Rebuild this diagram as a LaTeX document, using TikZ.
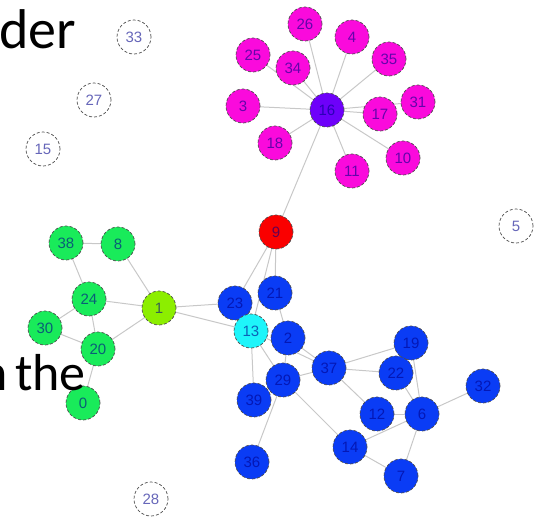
\documentclass[tikz,border=0pt]{standalone}
\usepackage{fontspec}
\setmainfont{Carlito}
\newfontfamily\numfont{Liberation Sans}
\usetikzlibrary{backgrounds}

\definecolor{edgegray}{RGB}{200,200,200}
\definecolor{magentav}{RGB}{250,10,220}
\definecolor{purplev}{RGB}{110,0,250}
\definecolor{bluev}{RGB}{10,60,245}
\definecolor{cyanv}{RGB}{30,245,250}
\definecolor{greenv}{RGB}{25,235,90}
\definecolor{limev}{RGB}{140,238,0}
\definecolor{redv}{RGB}{250,0,0}
\definecolor{labelblue}{RGB}{0,0,139}

\tikzset{
  vtx/.style={circle, minimum size=34pt, inner sep=0pt, draw=black!70, densely dashed, line width=0.7pt,
    font=\numfont\fontsize{15}{15}\selectfont, text=labelblue, text opacity=0.6},
  lonely/.style={vtx, fill=white},
  link/.style={draw=edgegray, line width=1pt},
  slidetext/.style={anchor=base west, inner sep=0pt, font=\fontsize{56}{56}\selectfont}
}

\begin{document}
\begin{tikzpicture}[x=1pt, y=-1pt]
        \useasboundingbox (0,0) rectangle (539,517);

        % isolated vertices
        \node[lonely] (v33) at (134,37) {33};
        \node[lonely] (v27) at (94,100) {27};
        \node[lonely] (v15) at (43,149) {15};
        \node[lonely] (v5) at (516,226) {5};
        \node[lonely] (v28) at (151,499) {28};

        % magenta star
        \node[vtx, fill=purplev] (v16) at (327,110) {16};
        \node[vtx, fill=magentav] (v26) at (305,24) {26};
        \node[vtx, fill=magentav] (v4) at (352,37) {4};
        \node[vtx, fill=magentav] (v35) at (389,59) {35};
        \node[vtx, fill=magentav] (v31) at (418,102) {31};
        \node[vtx, fill=magentav] (v17) at (380,114) {17};
        \node[vtx, fill=magentav] (v10) at (403,158) {10};
        \node[vtx, fill=magentav] (v11) at (352,171) {11};
        \node[vtx, fill=magentav] (v18) at (275,143) {18};
        \node[vtx, fill=magentav] (v3) at (243,106) {3};
        \node[vtx, fill=magentav] (v25) at (253,55) {25};
        \node[vtx, fill=magentav] (v34) at (293,68) {34};

        \node[vtx, fill=redv] (v9) at (276,232) {9};

        % green group
        \node[vtx, fill=greenv] (v38) at (66,243) {38};
        \node[vtx, fill=greenv] (v8) at (118,244) {8};
        \node[vtx, fill=greenv] (v24) at (89,299) {24};
        \node[vtx, fill=limev] (v1) at (159,308) {1};
        \node[vtx, fill=greenv] (v30) at (45,328) {30};
        \node[vtx, fill=greenv] (v20) at (98,349) {20};
        \node[vtx, fill=greenv] (v0) at (83,403) {0};

        % blue group
        \node[vtx, fill=bluev] (v21) at (275,293) {21};
        \node[vtx, fill=bluev] (v23) at (235,303) {23};
        \node[vtx, fill=cyanv] (v13) at (251,331) {13};
        \node[vtx, fill=bluev] (v2) at (288,338) {2};
        \node[vtx, fill=bluev] (v37) at (329,368) {37};
        \node[vtx, fill=bluev] (v29) at (283,380) {29};
        \node[vtx, fill=bluev] (v39) at (254,400) {39};
        \node[vtx, fill=bluev] (v36) at (252,462) {36};
        \node[vtx, fill=bluev] (v19) at (411,343) {19};
        \node[vtx, fill=bluev] (v22) at (396,373) {22};
        \node[vtx, fill=bluev] (v32) at (483,386) {32};
        \node[vtx, fill=bluev] (v12) at (377,414) {12};
        \node[vtx, fill=bluev] (v6) at (422,414) {6};
        \node[vtx, fill=bluev] (v14) at (350,447) {14};
        \node[vtx, fill=bluev] (v7) at (401,476) {7};

        % edges behind the vertices
        \begin{scope}[on background layer]
          \foreach \a/\b in {16/26, 16/4, 16/35, 16/31, 16/17, 16/10, 16/11, 16/18, 16/3, 16/25, 16/34, 16/9,
                             9/23, 9/13, 9/21,
                             38/8, 38/24, 8/1, 24/1, 24/30, 24/20, 30/20, 20/1, 20/0, 1/23, 1/13,
                             21/2, 13/39, 13/29, 13/37, 2/29, 2/37, 29/37, 29/14, 29/36,
                             37/19, 37/22, 37/12, 19/6, 22/6, 12/6, 6/32, 6/7, 6/14, 14/7}
            \draw[link] (v\a.center) -- (v\b.center);
        \end{scope}

        % slide text cut by the frame
        \node[slidetext] (txtder) at (-1,48) {der};
        \node[slidetext, font=\fontsize{52}{52}\selectfont] (txtthe) at (-20,390) {n\hspace{-4pt} the};
\end{tikzpicture}
\end{document}
